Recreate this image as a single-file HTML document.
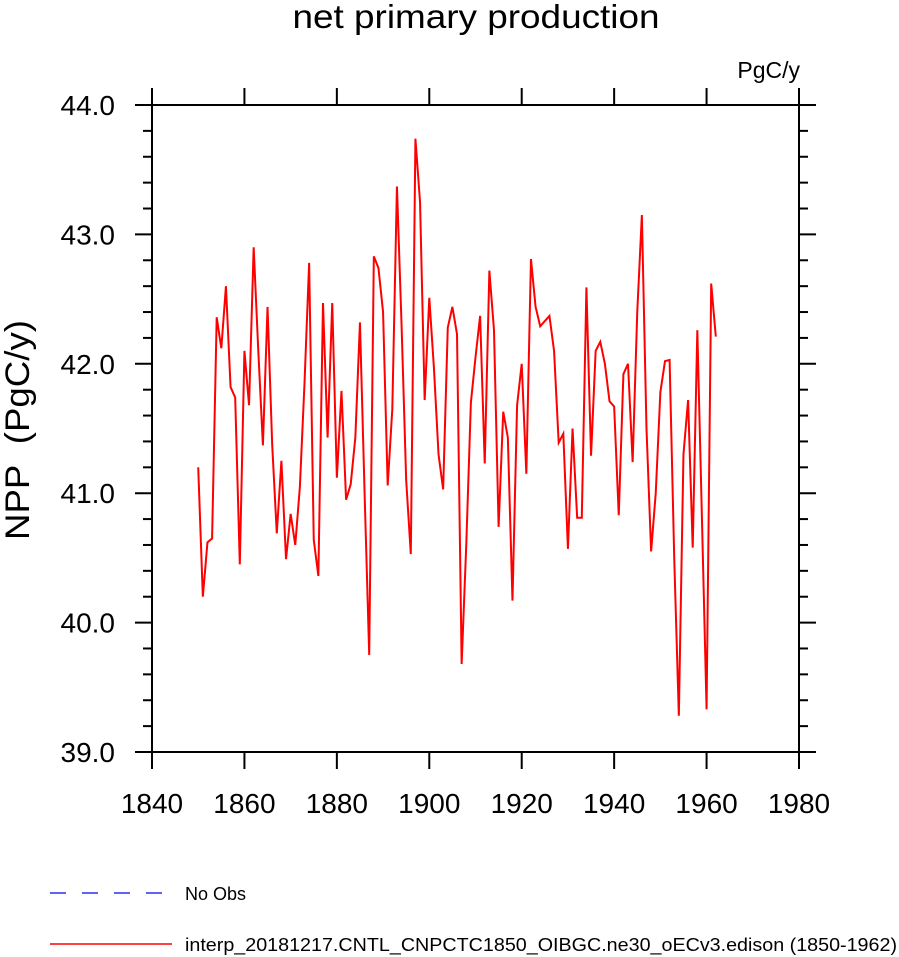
<!DOCTYPE html>
<html><head><meta charset="utf-8"><style>
body{margin:0;background:#fff;}
svg{display:block;font-family:"Liberation Sans",Arial,sans-serif;}
</style></head><body>
<svg id="chart" width="899" height="957" viewBox="0 0 899 957">
<text x="476" y="28" font-size="33" text-anchor="middle" textLength="367" lengthAdjust="spacingAndGlyphs">net primary production</text>
<text x="800" y="78" font-size="23" text-anchor="end">PgC/y</text>
<text transform="translate(29,430) rotate(-90)" font-size="34" text-anchor="middle" textLength="220" lengthAdjust="spacingAndGlyphs">NPP&#160; (PgC/y)</text>
<g id="axes"></g>
<g id="series"></g>
<g>
<line x1="50" y1="893" x2="165" y2="893" stroke="#0000ff" stroke-width="1.2" stroke-dasharray="16,16"/>
<text x="185" y="900" font-size="18">No Obs</text>
<line x1="50" y1="944" x2="172" y2="944" stroke="#ff0000" stroke-width="1.5"/>
<text x="185" y="951" font-size="18" textLength="712" lengthAdjust="spacingAndGlyphs">interp_20181217.CNTL_CNPCTC1850_OIBGC.ne30_oECv3.edison (1850-1962)</text>
</g>
</svg>
<script>
const startYear = 1850;
const nppValues = [41.2,40.2,40.62,40.65,42.36,42.12,42.6,41.82,41.74,40.45,
42.1,41.68,42.9,42.1,41.37,42.44,41.38,40.69,41.25,40.49,
40.84,40.6,41.05,41.85,42.78,40.64,40.36,42.47,41.43,42.47,
41.12,41.79,40.95,41.07,41.43,42.32,41.0,39.75,42.83,42.74,
42.4,41.06,41.65,43.37,42.3,41.1,40.53,43.74,43.25,41.72,
42.51,41.97,41.3,41.03,42.28,42.44,42.23,39.68,40.6,41.7,
42.05,42.37,41.23,42.72,42.26,40.74,41.63,41.43,40.17,41.68,
42.0,41.15,42.81,42.44,42.29,42.33,42.37,42.1,41.39,41.46,
40.57,41.5,40.81,40.81,42.59,41.29,42.1,42.17,42.0,41.71,
41.67,40.83,41.92,42.0,41.24,42.4,43.15,41.5,40.55,41.0,
41.78,42.02,42.03,40.5,39.28,41.3,41.72,40.58,42.26,40.8,
39.33,42.62,42.21];
const xTicks = [1840,1860,1880,1900,1920,1940,1960,1980];
const yTicks = [39.0,40.0,41.0,42.0,43.0,44.0];
const xMin=1840,xMax=1980,yMin=39,yMax=44;
const L=152,R=799,T=105,B=752;
const X=v=>L+(v-xMin)/(xMax-xMin)*(R-L);
const Y=v=>B-(v-yMin)/(yMax-yMin)*(B-T);
const NS="http://www.w3.org/2000/svg";
const ax=document.getElementById('axes');
function mk(tag,attrs,parent){const e=document.createElementNS(NS,tag);for(const k in attrs)e.setAttribute(k,attrs[k]);parent.appendChild(e);return e;}
const frame=mk('rect',{x:L,y:T,width:R-L,height:B-T,fill:'none',stroke:'#000','stroke-width':2},ax);


xTicks.forEach(t=>{
  const x=X(t);
  const a=mk('line',{x1:x,y1:B,x2:x,y2:B+17,stroke:'#000','stroke-width':2},ax);
  
  
  const b=mk('line',{x1:x,y1:T,x2:x,y2:T-17,stroke:'#000','stroke-width':2},ax);
  
  
  const lb=mk('text',{x:x,y:813,'font-size':28,'text-anchor':'middle'},ax);
  lb.textContent=t;
  
  
});
for(let i=0;i<=25;i++){
  const v=yMin+i*0.2, y=Y(v), major=(i%5===0);
  const len=major?17:9;
  const a=mk('line',{x1:L-len,y1:y,x2:L,y2:y,stroke:'#000','stroke-width':2},ax);
  
  
  const b=mk('line',{x1:R,y1:y,x2:R+len,y2:y,stroke:'#000','stroke-width':2},ax);
  
  
}
yTicks.forEach(t=>{
  const lb=mk('text',{x:115,y:Y(t)+10,'font-size':28,'text-anchor':'end'},ax);
  lb.textContent=t.toFixed(1);
  
  
});
const pts=nppValues.map((v,i)=>X(startYear+i).toFixed(2)+','+Y(v).toFixed(2)).join(' ');
const line=mk('polyline',{points:pts,fill:'none',stroke:'#ff0000','stroke-width':2,'stroke-linejoin':'miter'},document.getElementById('series'));


</script>
</body></html>
